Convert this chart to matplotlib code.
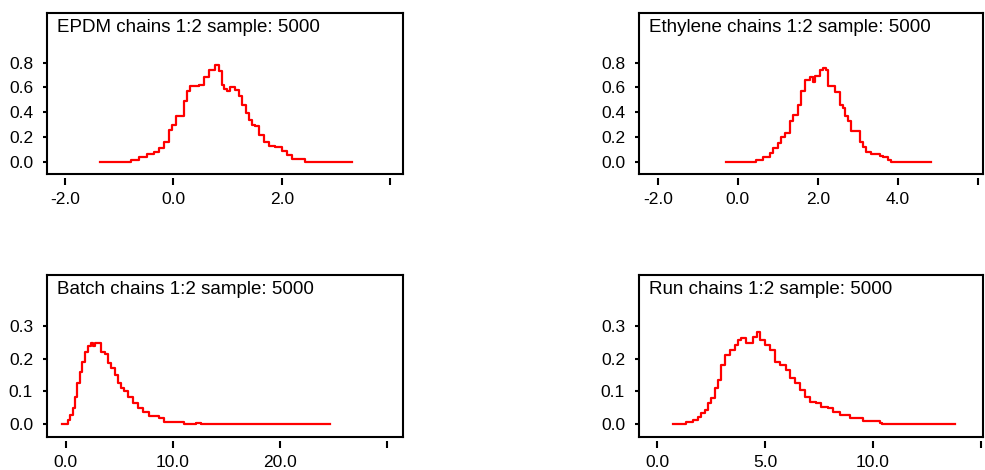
import matplotlib
matplotlib.use("Agg")
import matplotlib.pyplot as plt
from matplotlib.lines import Line2D

plt.rcParams['font.family'] = ['Liberation Sans', 'DejaVu Sans']

# kernel density traces (value, density) for each node
epdm_x = [-1.35, -0.79, -0.64, -0.49, -0.36, -0.27, -0.18, -0.09, -0.02, 0.055,
          0.20, 0.25, 0.31, 0.47, 0.56, 0.65, 0.77, 0.84, 0.90, 0.93, 0.99,
          1.05, 1.14, 1.20, 1.27, 1.33, 1.39, 1.45, 1.51, 1.57, 1.66, 1.76,
          1.88, 2.00, 2.10, 2.19, 2.43, 3.29]
epdm_y = [0.0, 0.014, 0.043, 0.065, 0.083, 0.11, 0.16, 0.26, 0.30, 0.37,
          0.49, 0.57, 0.61, 0.62, 0.68, 0.74, 0.78, 0.73, 0.62, 0.59, 0.57,
          0.60, 0.58, 0.53, 0.46, 0.39, 0.34, 0.30, 0.29, 0.22, 0.16, 0.13,
          0.12, 0.09, 0.057, 0.024, 0.0, 0.0]

ethyl_x = [-0.29, 0.46, 0.63, 0.79, 0.88, 1.00, 1.08, 1.17, 1.29, 1.38,
           1.50, 1.58, 1.67, 1.79, 1.88, 1.92, 2.04, 2.13, 2.21, 2.25, 2.33,
           2.42, 2.54, 2.62, 2.67, 2.75, 2.83, 3.04, 3.13, 3.21, 3.33, 3.46,
           3.54, 3.63, 3.75, 3.83, 4.83]
ethyl_y = [0.0, 0.014, 0.04, 0.07, 0.11, 0.15, 0.20, 0.23, 0.33, 0.38,
           0.46, 0.57, 0.66, 0.68, 0.64, 0.69, 0.74, 0.76, 0.74, 0.61, 0.61,
           0.56, 0.46, 0.43, 0.37, 0.33, 0.25, 0.16, 0.12, 0.08, 0.06, 0.065,
           0.05, 0.04, 0.014, 0.0, 0.0]

batch_x = [-0.40, 0.22, 0.37, 0.68, 0.83, 1.08, 1.30, 1.51, 1.76, 2.07,
           2.32, 2.53, 2.69, 3.00, 3.31, 3.62, 3.92, 4.24, 4.55, 4.85, 5.16,
           5.47, 5.78, 6.24, 6.71, 7.17, 7.79, 8.72, 9.18, 11.04, 12.2, 12.6,
           24.65]
batch_y = [0.0, 0.013, 0.028, 0.049, 0.084, 0.125, 0.16, 0.19, 0.22, 0.237,
           0.247, 0.237, 0.247, 0.247, 0.22, 0.215, 0.186, 0.171, 0.15, 0.125,
           0.11, 0.10, 0.084, 0.064, 0.049, 0.038, 0.025, 0.018, 0.008, 0.0,
           0.005, 0.0, 0.0]

run_x = [0.72, 1.35, 1.65, 1.88, 2.04, 2.20, 2.35, 2.51, 2.66, 2.81, 2.97,
         3.12, 3.36, 3.59, 3.74, 3.90, 4.13, 4.44, 4.64, 4.75, 4.98, 5.21,
         5.45, 5.68, 5.99, 6.14, 6.37, 6.61, 6.84, 7.07, 7.38, 7.61, 7.92,
         8.15, 8.46, 8.93, 9.54, 10.32, 10.40, 13.8]
run_y = [0.0, 0.008, 0.013, 0.023, 0.034, 0.044, 0.064, 0.079, 0.11, 0.135,
         0.18, 0.21, 0.227, 0.242, 0.257, 0.262, 0.247, 0.267, 0.282, 0.257,
         0.242, 0.227, 0.19, 0.18, 0.166, 0.14, 0.125, 0.105, 0.084, 0.069,
         0.064, 0.054, 0.049, 0.038, 0.028, 0.02, 0.011, 0.003, 0.0, 0.0]

titles = ['EPDM chains 1:2 sample: 5000', 'Ethylene chains 1:2 sample: 5000',
          'Batch chains 1:2 sample: 5000', 'Run chains 1:2 sample: 5000']

panels = [
    dict(x=epdm_x, y=epdm_y, rect=[0.0477, 0.630, 0.3614, 0.3426],
         xlim=(-2.33, 4.23), xticks=[-2, 0, 2, 4], xlabels=['-2.0', '0.0', '2.0', ''],
         ylim=(-0.097, 1.20), yticks=[0.0, 0.2, 0.4, 0.6, 0.8],
         ylabels=['0.0', '0.2', '0.4', '0.6', '0.8']),
    dict(x=ethyl_x, y=ethyl_y, rect=[0.6487, 0.630, 0.3492, 0.3426],
         xlim=(-2.47, 6.12), xticks=[-2, 0, 2, 4, 6],
         xlabels=['-2.0', '0.0', '2.0', '4.0', ''],
         ylim=(-0.097, 1.20), yticks=[0.0, 0.2, 0.4, 0.6, 0.8],
         ylabels=['0.0', '0.2', '0.4', '0.6', '0.8']),
    dict(x=batch_x, y=batch_y, rect=[0.0477, 0.0709, 0.3614, 0.344],
         xlim=(-1.76, 31.5), xticks=[0, 10, 20, 30],
         xlabels=['0.0', '10.0', '20.0', ''],
         ylim=(-0.038, 0.455), yticks=[0.0, 0.1, 0.2, 0.3],
         ylabels=['0.0', '0.1', '0.2', '0.3']),
    dict(x=run_x, y=run_y, rect=[0.6487, 0.0709, 0.3492, 0.344],
         xlim=(-0.85, 15.1), xticks=[0, 5, 10, 15],
         xlabels=['0.0', '5.0', '10.0', ''],
         ylim=(-0.038, 0.455), yticks=[0.0, 0.1, 0.2, 0.3],
         ylabels=['0.0', '0.1', '0.2', '0.3']),
]

fig = plt.figure(figsize=(9.85, 4.70), dpi=100)

for p, title in zip(panels, titles):
    ax = fig.add_axes(p['rect'])
    ax.plot(p['x'], p['y'], color='#ff0000', lw=1.6, drawstyle='steps-post')
    ax.set_xlim(*p['xlim'])
    ax.set_ylim(*p['ylim'])
    ax.set_xticks(p['xticks'])
    ax.set_xticklabels(p['xlabels'])
    ax.set_yticks(p['yticks'])
    ax.set_yticklabels(p['ylabels'])

    for s in ax.spines.values():
        s.set_linewidth(1.5)
    # x axis ticks sit a little below the frame
    ax.spines['bottom'].set_position(('outward', 3))
    ax.spines['bottom'].set_visible(False)
    ax.add_line(Line2D([0, 1], [0, 0], transform=ax.transAxes, color='black',
                       lw=1.5, clip_on=False))

    ax.tick_params(axis='x', direction='out', length=5, width=1.5, pad=5,
                   labelsize=12.5)
    ax.tick_params(axis='y', direction='out', length=3, width=1.5, pad=7,
                   labelsize=12.5)
    ax.text(0.028, 0.96, title, transform=ax.transAxes, ha='left', va='top',
            fontsize=13.5)

fig.savefig('out.png', dpi=100)
